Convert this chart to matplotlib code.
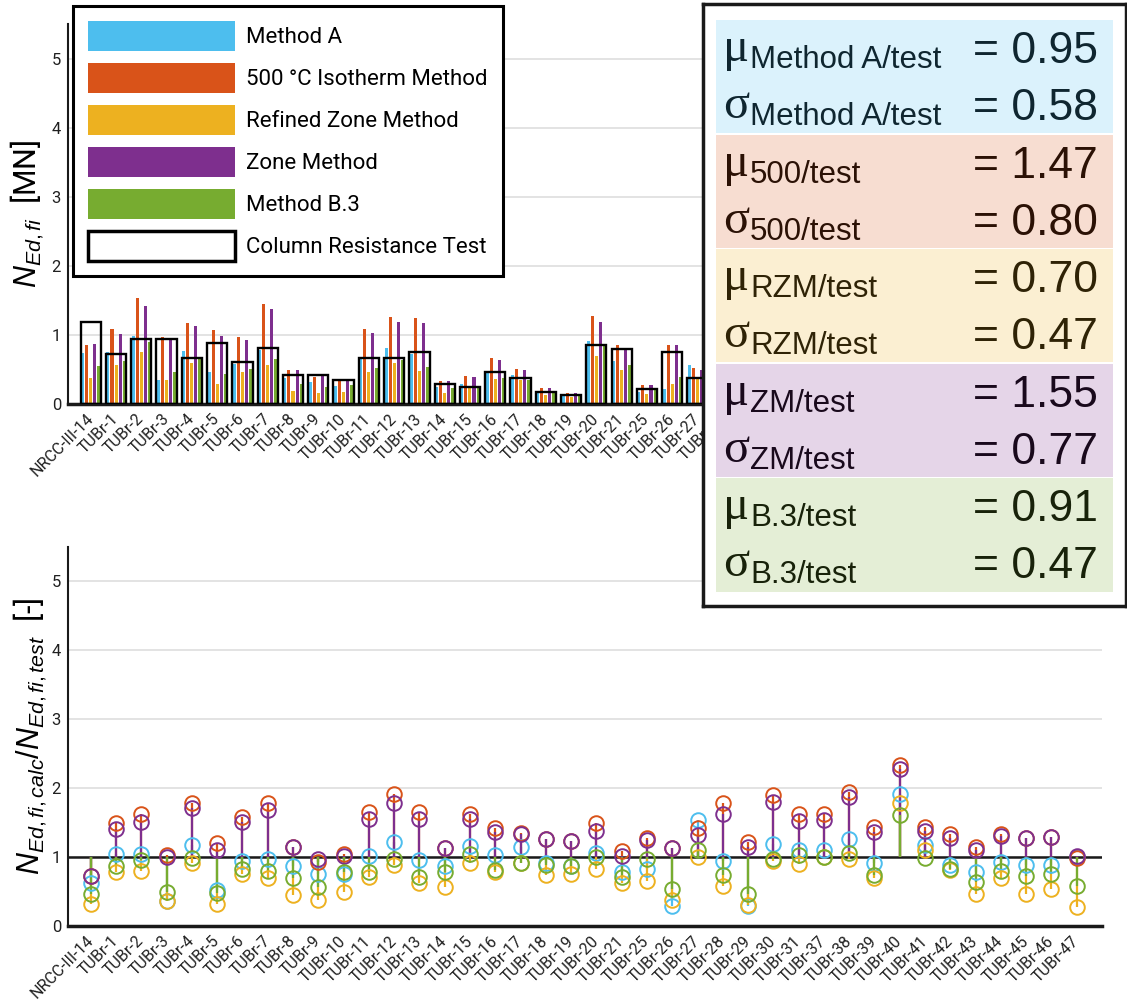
import matplotlib
matplotlib.use("Agg")
import matplotlib.pyplot as plt
from matplotlib.patches import Patch, Rectangle
from matplotlib.colors import to_rgb
import numpy as np

# ---------------------------------------------------------------- data
specimens = [
    "NRCC-III-14", "TUBr-1", "TUBr-2", "TUBr-3", "TUBr-4", "TUBr-5", "TUBr-6",
    "TUBr-7", "TUBr-8", "TUBr-9", "TUBr-10", "TUBr-11", "TUBr-12", "TUBr-13",
    "TUBr-14", "TUBr-15", "TUBr-16", "TUBr-17", "TUBr-18", "TUBr-19", "TUBr-20",
    "TUBr-21", "TUBr-25", "TUBr-26", "TUBr-27", "TUBr-28", "TUBr-29", "TUBr-30",
    "TUBr-31", "TUBr-37", "TUBr-38", "TUBr-39", "TUBr-40", "TUBr-41", "TUBr-42",
    "TUBr-43", "TUBr-44", "TUBr-45", "TUBr-46", "TUBr-47",
]

methods = ["Method A", "500 °C Isotherm Method", "Refined Zone Method",
           "Zone Method", "Method B.3"]
method_colors = ["#4DBEEE", "#D95319", "#EDB120", "#7E2F8E", "#77AC30"]

# measured column resistance in fire [MN]
test_resistance = [
    1.18, 0.72, 0.94, 0.94, 0.66, 0.89, 0.61, 0.81, 0.425, 0.425,
    0.35, 0.66, 0.66, 0.75, 0.29, 0.25, 0.47, 0.37, 0.18, 0.135,
    0.855, 0.79, 0.22, 0.75, 0.37, 0.55, 0.75, 0.45, 0.60, 0.50,
    0.40, 0.65, 0.30, 0.55, 0.70, 0.50, 0.45, 0.60, 0.50, 0.35,
]

# calculated / tested resistance
ratio_method_a = [
    0.62, 1.05, 1.05, 0.37, 1.17, 0.52, 0.95, 0.97, 0.87, 0.76,
    0.75, 1.01, 1.22, 0.96, 0.87, 1.16, 1.03, 1.14, 0.92, 0.87,
    1.06, 0.78, 0.82, 0.29, 1.54, 0.94, 0.29, 1.19, 1.10, 1.10,
    1.26, 0.92, 1.92, 1.17, 0.88, 0.79, 0.93, 0.88, 0.89, 1.00,
]
ratio_500 = [
    0.72, 1.50, 1.63, 1.03, 1.78, 1.20, 1.58, 1.79, 1.15, 0.93,
    1.04, 1.65, 1.91, 1.66, 1.13, 1.62, 1.42, 1.35, 1.26, 1.23,
    1.49, 1.09, 1.28, 1.13, 1.42, 1.78, 1.22, 1.90, 1.62, 1.63,
    1.95, 1.44, 2.33, 1.43, 1.33, 1.14, 1.34, 1.28, 1.29, 0.99,
]
ratio_rzm = [
    0.32, 0.79, 0.80, 0.37, 0.91, 0.32, 0.76, 0.70, 0.45, 0.38,
    0.49, 0.71, 0.89, 0.63, 0.56, 0.91, 0.78, 0.92, 0.74, 0.75,
    0.82, 0.63, 0.65, 0.38, 1.00, 0.58, 0.30, 0.94, 0.90, 1.00,
    0.97, 0.70, 1.79, 1.11, 0.81, 0.47, 0.70, 0.47, 0.54, 0.28,
]
ratio_zm = [
    0.73, 1.41, 1.51, 1.00, 1.71, 1.10, 1.51, 1.69, 1.15, 0.97,
    1.01, 1.55, 1.79, 1.56, 1.13, 1.55, 1.37, 1.33, 1.26, 1.23,
    1.38, 1.01, 1.25, 1.13, 1.32, 1.63, 1.14, 1.80, 1.53, 1.54,
    1.87, 1.37, 2.28, 1.38, 1.27, 1.10, 1.30, 1.27, 1.29, 1.01,
]
ratio_b3 = [
    0.46, 0.87, 0.96, 0.49, 0.99, 0.48, 0.82, 0.80, 0.69, 0.57,
    0.79, 0.78, 0.97, 0.71, 0.79, 1.05, 0.81, 0.92, 0.88, 0.87,
    1.00, 0.71, 0.97, 0.53, 1.11, 0.74, 0.47, 0.97, 1.03, 1.00,
    1.06, 0.74, 1.61, 0.98, 0.83, 0.64, 0.80, 0.72, 0.75, 0.58,
]

stat_tags = ["Method A/test", "500/test", "RZM/test", "ZM/test", "B.3/test"]
stat_mean = [0.95, 1.47, 0.70, 1.55, 0.91]
stat_std = [0.58, 0.80, 0.47, 0.77, 0.47]

ratios = [ratio_method_a, ratio_500, ratio_rzm, ratio_zm, ratio_b3]

# ---------------------------------------------------------------- style
plt.rcParams["font.family"] = ["Roboto", "DejaVu Sans"]
plt.rcParams["mathtext.fontset"] = "custom"
plt.rcParams["mathtext.it"] = "Liberation Sans:italic"
plt.rcParams["mathtext.rm"] = "Liberation Sans"
plt.rcParams["mathtext.bf"] = "Liberation Sans:bold"

W, H = 1127, 1008
fig = plt.figure(figsize=(W / 100, H / 100), dpi=100)


def fig_rect(x0, y0, x1, y1):
    """Pixel box (top-left origin) -> figure-fraction rectangle."""
    return [x0 / W, 1 - y1 / H, (x1 - x0) / W, (y1 - y0) / H]


def tint(c, a):
    return tuple(a * v + (1 - a) for v in to_rgb(c))


def shade(c, f):
    return tuple(v * f for v in to_rgb(c))


tick_color = "#202020"
grid_color = "#e1e1e1"
x = np.arange(len(specimens))
test = np.array(test_resistance)


def style_axes(ax):
    ax.set_xlim(-0.9, 40.0)
    ax.set_ylim(0, 5.5)
    ax.set_yticks(range(6))
    ax.set_xticks(x)
    ax.set_xticklabels(specimens, rotation=45, ha="right", va="center",
                       rotation_mode="anchor", fontsize=11.5, color=tick_color)
    ax.tick_params(axis="x", length=0, pad=9)
    ax.tick_params(axis="y", length=0, pad=5, labelsize=12,
                   labelcolor=tick_color)
    for side in ("top", "right"):
        ax.spines[side].set_visible(False)
    ax.spines["left"].set_linewidth(1.5)
    ax.spines["left"].set_color("#1a1a1a")
    ax.spines["bottom"].set_linewidth(2.5)
    ax.spines["bottom"].set_color("#1a1a1a")
    ax.yaxis.grid(True, color=grid_color, lw=1.3)
    ax.set_axisbelow(True)


# ---------------------------------------------------------------- top: absolute resistance
ax_top = fig.add_axes(fig_rect(68, 24, 1102, 404))
style_axes(ax_top)
offsets = (np.arange(len(methods)) - 2) * 0.16
for k, (r, c) in enumerate(zip(ratios, method_colors)):
    ax_top.bar(x + offsets[k], test * np.array(r), width=0.12, color=c,
               zorder=2)
ax_top.bar(x, test, width=0.8, fill=False, edgecolor="black", lw=1.7,
           zorder=3)
ax_top.set_ylabel(r"$N_{Ed,fi}$  [MN]", fontsize=22, labelpad=4)

handles = [Patch(facecolor=c, edgecolor="none", label=m)
           for m, c in zip(methods, method_colors)]
handles.append(Patch(facecolor="white", edgecolor="black", lw=2.5,
                     label="Column Resistance Test"))
leg = ax_top.legend(handles=handles, loc="upper left",
                    bbox_to_anchor=(73 / W, 1 - 6 / H),
                    bbox_transform=fig.transFigure, borderaxespad=0,
                    fontsize=16, handlelength=6.62, handleheight=1.70,
                    labelspacing=0.54, borderpad=0.675, handletextpad=0.5,
                    fancybox=False, framealpha=1, edgecolor="black")
leg.get_frame().set_linewidth(2.2)
leg.set_zorder(10)

# ---------------------------------------------------------------- bottom: calc / test
ax_bot = fig.add_axes(fig_rect(68, 547, 1102, 926))
style_axes(ax_bot)
ax_bot.axhline(1, color="#1a1a1a", lw=1.8, zorder=1.5)
for k, (r, c) in enumerate(zip(ratios, method_colors)):
    ax_bot.vlines(x, 1, r, color=c, lw=1.6, zorder=2 + 0.01 * k)
for k, (r, c) in enumerate(zip(ratios, method_colors)):
    ax_bot.plot(x, r, "o", ms=10.5, mfc="none", mec=c, mew=1.4,
                zorder=3 + 0.01 * k)
ax_bot.set_ylabel(r"$N_{Ed,fi,calc}/N_{Ed,fi,test}$  [-]", fontsize=22,
                  labelpad=2)

# ---------------------------------------------------------------- statistics panel
box = fig.add_axes(fig_rect(703, 4, 1126, 606))
box.set_zorder(20)
box.set_xlim(0, 423)
box.set_ylim(602, 0)
box.set_xticks([])
box.set_yticks([])
for sp in box.spines.values():
    sp.set_linewidth(2.5)
    sp.set_color("#1a1a1a")

panel_h = 114.6
for k, c in enumerate(method_colors):
    top = 16 + k * panel_h
    box.add_patch(Rectangle((13, top), 397, panel_h - 1.5,
                            facecolor=tint(c, 0.2), edgecolor="none"))
    tc = shade(c, 0.2)
    rows = [("μ", stat_mean[k], 0), ("σ", stat_std[k], 57)]
    for greek, val, dy in rows:
        box.text(20, top + 41 + dy, greek, family="Liberation Serif",
                 fontsize=35, va="baseline", color=tc)
        box.text(47, top + 48 + dy, stat_tags[k], family="Liberation Sans",
                 fontsize=22.5, va="baseline", color=tc)
        box.text(395, top + 43 + dy, f"= {val:.2f}", family="Liberation Sans",
                 fontsize=32, va="baseline", ha="right", color=tc)

fig.savefig("out.png", dpi=100)
